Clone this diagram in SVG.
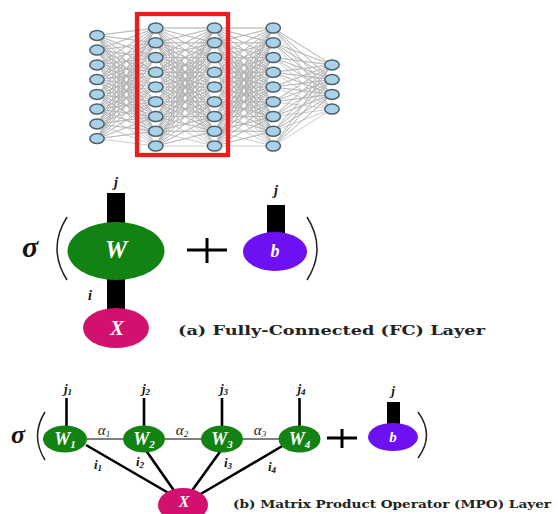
<svg xmlns="http://www.w3.org/2000/svg" width="558" height="514" viewBox="0 0 558 514">
<style>
.edge{fill:none;stroke:#b0b0b0;stroke-width:0.65;stroke-linejoin:round}
.nn{fill:#a8d1ea;stroke:#4f5f6a;stroke-width:1.5}
.m{font-family:"Liberation Serif","DejaVu Serif",serif;font-weight:bold;font-style:italic}
.mr{font-family:"Liberation Serif","DejaVu Serif",serif;font-style:italic;fill:#222}
.wt{fill:#fff}
.lbl{fill:#111}
.leg{stroke:#000;stroke-width:2.6;fill:none}
.bond{stroke:#555;stroke-width:1.3;fill:none}
.paren{fill:none;stroke:#222;stroke-width:1.5}
.plus{stroke:#000;stroke-width:3;fill:none}
.cap{font-family:"DejaVu Serif","Liberation Serif",serif;font-weight:bold;fill:#222}
.green{fill:#128212}
.mag{fill:#d3106f}
.pur{fill:#6d10f2}
</style>
<defs>
<ellipse id="nd" class="nn" cx="0" cy="0" rx="7.2" ry="5"/>
</defs>

<g id="nn-edges" transform="translate(97 28) scale(58.75 14.75)">
<path class="edge" vector-effect="non-scaling-stroke" d="M0 .5L1 0L0 .5L1 1L0 .5L1 2L0 .5L1 3L0 .5L1 4L0 .5L1 5L0 .5L1 6L0 .5L1 7L0 .5L1 8
M0 1.5L1 0L0 1.5L1 1L0 1.5L1 2L0 1.5L1 3L0 1.5L1 4L0 1.5L1 5L0 1.5L1 6L0 1.5L1 7L0 1.5L1 8
M0 2.5L1 0L0 2.5L1 1L0 2.5L1 2L0 2.5L1 3L0 2.5L1 4L0 2.5L1 5L0 2.5L1 6L0 2.5L1 7L0 2.5L1 8
M0 3.5L1 0L0 3.5L1 1L0 3.5L1 2L0 3.5L1 3L0 3.5L1 4L0 3.5L1 5L0 3.5L1 6L0 3.5L1 7L0 3.5L1 8
M0 4.5L1 0L0 4.5L1 1L0 4.5L1 2L0 4.5L1 3L0 4.5L1 4L0 4.5L1 5L0 4.5L1 6L0 4.5L1 7L0 4.5L1 8
M0 5.5L1 0L0 5.5L1 1L0 5.5L1 2L0 5.5L1 3L0 5.5L1 4L0 5.5L1 5L0 5.5L1 6L0 5.5L1 7L0 5.5L1 8
M0 6.5L1 0L0 6.5L1 1L0 6.5L1 2L0 6.5L1 3L0 6.5L1 4L0 6.5L1 5L0 6.5L1 6L0 6.5L1 7L0 6.5L1 8
M0 7.5L1 0L0 7.5L1 1L0 7.5L1 2L0 7.5L1 3L0 7.5L1 4L0 7.5L1 5L0 7.5L1 6L0 7.5L1 7L0 7.5L1 8
M1 0L2 0L1 0L2 1L1 0L2 2L1 0L2 3L1 0L2 4L1 0L2 5L1 0L2 6L1 0L2 7L1 0L2 8
M1 1L2 0L1 1L2 1L1 1L2 2L1 1L2 3L1 1L2 4L1 1L2 5L1 1L2 6L1 1L2 7L1 1L2 8
M1 2L2 0L1 2L2 1L1 2L2 2L1 2L2 3L1 2L2 4L1 2L2 5L1 2L2 6L1 2L2 7L1 2L2 8
M1 3L2 0L1 3L2 1L1 3L2 2L1 3L2 3L1 3L2 4L1 3L2 5L1 3L2 6L1 3L2 7L1 3L2 8
M1 4L2 0L1 4L2 1L1 4L2 2L1 4L2 3L1 4L2 4L1 4L2 5L1 4L2 6L1 4L2 7L1 4L2 8
M1 5L2 0L1 5L2 1L1 5L2 2L1 5L2 3L1 5L2 4L1 5L2 5L1 5L2 6L1 5L2 7L1 5L2 8
M1 6L2 0L1 6L2 1L1 6L2 2L1 6L2 3L1 6L2 4L1 6L2 5L1 6L2 6L1 6L2 7L1 6L2 8
M1 7L2 0L1 7L2 1L1 7L2 2L1 7L2 3L1 7L2 4L1 7L2 5L1 7L2 6L1 7L2 7L1 7L2 8
M1 8L2 0L1 8L2 1L1 8L2 2L1 8L2 3L1 8L2 4L1 8L2 5L1 8L2 6L1 8L2 7L1 8L2 8
M2 0L3 0L2 0L3 1L2 0L3 2L2 0L3 3L2 0L3 4L2 0L3 5L2 0L3 6L2 0L3 7L2 0L3 8
M2 1L3 0L2 1L3 1L2 1L3 2L2 1L3 3L2 1L3 4L2 1L3 5L2 1L3 6L2 1L3 7L2 1L3 8
M2 2L3 0L2 2L3 1L2 2L3 2L2 2L3 3L2 2L3 4L2 2L3 5L2 2L3 6L2 2L3 7L2 2L3 8
M2 3L3 0L2 3L3 1L2 3L3 2L2 3L3 3L2 3L3 4L2 3L3 5L2 3L3 6L2 3L3 7L2 3L3 8
M2 4L3 0L2 4L3 1L2 4L3 2L2 4L3 3L2 4L3 4L2 4L3 5L2 4L3 6L2 4L3 7L2 4L3 8
M2 5L3 0L2 5L3 1L2 5L3 2L2 5L3 3L2 5L3 4L2 5L3 5L2 5L3 6L2 5L3 7L2 5L3 8
M2 6L3 0L2 6L3 1L2 6L3 2L2 6L3 3L2 6L3 4L2 6L3 5L2 6L3 6L2 6L3 7L2 6L3 8
M2 7L3 0L2 7L3 1L2 7L3 2L2 7L3 3L2 7L3 4L2 7L3 5L2 7L3 6L2 7L3 7L2 7L3 8
M2 8L3 0L2 8L3 1L2 8L3 2L2 8L3 3L2 8L3 4L2 8L3 5L2 8L3 6L2 8L3 7L2 8L3 8
M3 0L4 2.5L3 0L4 3.5L3 0L4 4.5L3 0L4 5.5
M3 1L4 2.5L3 1L4 3.5L3 1L4 4.5L3 1L4 5.5
M3 2L4 2.5L3 2L4 3.5L3 2L4 4.5L3 2L4 5.5
M3 3L4 2.5L3 3L4 3.5L3 3L4 4.5L3 3L4 5.5
M3 4L4 2.5L3 4L4 3.5L3 4L4 4.5L3 4L4 5.5
M3 5L4 2.5L3 5L4 3.5L3 5L4 4.5L3 5L4 5.5
M3 6L4 2.5L3 6L4 3.5L3 6L4 4.5L3 6L4 5.5
M3 7L4 2.5L3 7L4 3.5L3 7L4 4.5L3 7L4 5.5
M3 8L4 2.5L3 8L4 3.5L3 8L4 4.5L3 8L4 5.5"/>
</g>

<g id="nn-layer1">
<use href="#nd" x="97" y="35.4"/><use href="#nd" x="97" y="50.1"/><use href="#nd" x="97" y="64.9"/><use href="#nd" x="97" y="79.6"/>
<use href="#nd" x="97" y="94.4"/><use href="#nd" x="97" y="109.1"/><use href="#nd" x="97" y="123.9"/><use href="#nd" x="97" y="138.6"/>
</g>
<g id="nn-layer2">
<use href="#nd" x="155.75" y="28"/><use href="#nd" x="155.75" y="42.75"/><use href="#nd" x="155.75" y="57.5"/><use href="#nd" x="155.75" y="72.25"/>
<use href="#nd" x="155.75" y="87"/><use href="#nd" x="155.75" y="101.75"/><use href="#nd" x="155.75" y="116.5"/><use href="#nd" x="155.75" y="131.25"/><use href="#nd" x="155.75" y="146"/>
</g>
<g id="nn-layer3">
<use href="#nd" x="214.5" y="28"/><use href="#nd" x="214.5" y="42.75"/><use href="#nd" x="214.5" y="57.5"/><use href="#nd" x="214.5" y="72.25"/>
<use href="#nd" x="214.5" y="87"/><use href="#nd" x="214.5" y="101.75"/><use href="#nd" x="214.5" y="116.5"/><use href="#nd" x="214.5" y="131.25"/><use href="#nd" x="214.5" y="146"/>
</g>
<g id="nn-layer4">
<use href="#nd" x="273.25" y="28"/><use href="#nd" x="273.25" y="42.75"/><use href="#nd" x="273.25" y="57.5"/><use href="#nd" x="273.25" y="72.25"/>
<use href="#nd" x="273.25" y="87"/><use href="#nd" x="273.25" y="101.75"/><use href="#nd" x="273.25" y="116.5"/><use href="#nd" x="273.25" y="131.25"/><use href="#nd" x="273.25" y="146"/>
</g>
<g id="nn-layer5">
<use href="#nd" x="332" y="64.9"/><use href="#nd" x="332" y="79.6"/><use href="#nd" x="332" y="94.4"/><use href="#nd" x="332" y="109.1"/>
</g>
<rect id="highlight" x="137" y="14" width="91" height="141" fill="none" stroke="#ec1c1c" stroke-width="4.3"/>

<!-- (a) FC layer -->
<g id="fc-connectors">
<rect x="107" y="193" width="18" height="34" fill="#000"/>
<rect x="107" y="276" width="18" height="34" fill="#000"/>
<rect x="267" y="205" width="18" height="30" fill="#000"/>
</g>
<g id="fc-sigma">
<text x="22" y="257" class="m" font-size="30" fill="#111">σ</text>
<path class="paren" d="M67 217Q47 248.5 67 280"/>
<path class="paren" d="M307 217Q327 248.5 307 280"/>
</g>
<g id="fc-W">
<ellipse cx="116" cy="251" rx="48.5" ry="29" class="green"/>
<text x="116" y="258" class="m wt" font-size="25" text-anchor="middle">W</text>
<text x="116" y="187" class="m lbl" font-size="14" text-anchor="middle">j</text>
<text x="90" y="300" class="m lbl" font-size="14" text-anchor="middle">i</text>
</g>
<g id="fc-X">
<ellipse cx="116" cy="328" rx="33" ry="20" class="mag"/>
<text x="117" y="335" class="m wt" font-size="21" text-anchor="middle">X</text>
</g>
<g id="fc-plus">
<path class="plus" d="M187 250H227M207 238V263"/>
</g>
<g id="fc-b">
<ellipse cx="275" cy="251.5" rx="32" ry="19.5" class="pur"/>
<text x="275" y="257" class="m wt" font-size="18" text-anchor="middle">b</text>
<text x="276" y="195" class="m lbl" font-size="14" text-anchor="middle">j</text>
</g>
<text id="cap-a" x="178" y="335" class="cap" font-size="13.5" textLength="307" lengthAdjust="spacingAndGlyphs">(a) Fully-Connected (FC) Layer</text>

<!-- (b) MPO layer -->
<g id="mpo-connectors">
<path class="leg" d="M66.5 398V428M144 398V428M222 398V428M299.5 398V428"/>
<path class="bond" d="M85 439H281"/>
<path class="leg" d="M86 445L172 495M145 449L175 492M222 449L191 492M284 445L199 495"/>
<rect x="387" y="402" width="13" height="24" fill="#000"/>
</g>
<g id="mpo-sigma">
<text x="11" y="443" class="m" font-size="26" fill="#111">σ</text>
<path class="paren" d="M45 412Q30 436 45 460"/>
<path class="paren" d="M418 412Q435 435 418 458"/>
</g>
<g id="mpo-W1">
<ellipse cx="65" cy="439" rx="22" ry="13.5" class="green"/>
<text x="65" y="445" class="m wt" font-size="18" text-anchor="middle">W<tspan font-size="11" dy="3">1</tspan></text>
<text x="68" y="393" class="m lbl" font-size="13" text-anchor="middle">j<tspan font-size="9" dy="2">1</tspan></text>
</g>
<g id="mpo-W2">
<ellipse cx="144" cy="439" rx="21" ry="13.5" class="green"/>
<text x="144" y="445" class="m wt" font-size="18" text-anchor="middle">W<tspan font-size="11" dy="3">2</tspan></text>
<text x="146" y="393" class="m lbl" font-size="13" text-anchor="middle">j<tspan font-size="9" dy="2">2</tspan></text>
</g>
<g id="mpo-W3">
<ellipse cx="222" cy="439" rx="21" ry="13.5" class="green"/>
<text x="222" y="445" class="m wt" font-size="18" text-anchor="middle">W<tspan font-size="11" dy="3">3</tspan></text>
<text x="224" y="393" class="m lbl" font-size="13" text-anchor="middle">j<tspan font-size="9" dy="2">3</tspan></text>
</g>
<g id="mpo-W4">
<ellipse cx="299.5" cy="439" rx="21" ry="13.5" class="green"/>
<text x="299.5" y="445" class="m wt" font-size="18" text-anchor="middle">W<tspan font-size="11" dy="3">4</tspan></text>
<text x="301.5" y="393" class="m lbl" font-size="13" text-anchor="middle">j<tspan font-size="9" dy="2">4</tspan></text>
</g>
<g id="mpo-labels">
<text x="104" y="435" class="mr" font-size="15" text-anchor="middle">α<tspan font-size="9" dy="2">1</tspan></text>
<text x="182" y="435" class="mr" font-size="15" text-anchor="middle">α<tspan font-size="9" dy="2">2</tspan></text>
<text x="260" y="435" class="mr" font-size="15" text-anchor="middle">α<tspan font-size="9" dy="2">3</tspan></text>
<text x="98" y="469" class="m lbl" font-size="13" text-anchor="middle">i<tspan font-size="9" dy="2">1</tspan></text>
<text x="140" y="466" class="m lbl" font-size="13" text-anchor="middle">i<tspan font-size="9" dy="2">2</tspan></text>
<text x="228" y="467" class="m lbl" font-size="13" text-anchor="middle">i<tspan font-size="9" dy="2">3</tspan></text>
<text x="272" y="471" class="m lbl" font-size="13" text-anchor="middle">i<tspan font-size="9" dy="2">4</tspan></text>
</g>
<g id="mpo-X">
<ellipse cx="183" cy="505" rx="25" ry="17" class="mag"/>
<text x="184" y="507" class="m wt" font-size="16" text-anchor="middle">X</text>
</g>
<g id="mpo-plus">
<path class="plus" d="M327 438H357M342 429V448"/>
</g>
<g id="mpo-b">
<ellipse cx="393" cy="437" rx="25" ry="14" class="pur"/>
<text x="393" y="442" class="m wt" font-size="15" text-anchor="middle">b</text>
<text x="393" y="395" class="m lbl" font-size="13" text-anchor="middle">j</text>
</g>
<text id="cap-b" x="233" y="508" class="cap" font-size="11.5" textLength="318" lengthAdjust="spacingAndGlyphs">(b) Matrix Product Operator (MPO) Layer</text>
</svg>
